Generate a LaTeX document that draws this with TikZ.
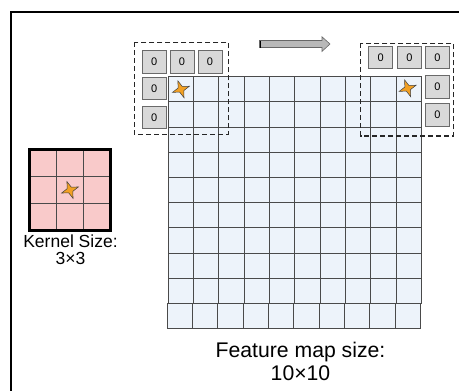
\documentclass[tikz,border=0pt]{standalone}
\usepackage{fontspec}
\setmainfont{Liberation Sans}
\usetikzlibrary{shapes.geometric}
\definecolor{mapfill}{HTML}{EDF3FA}
\definecolor{mapline}{HTML}{4A4A4A}
\definecolor{kernfill}{HTML}{F9CACA}
\definecolor{padfill}{HTML}{D9D9D9}
\definecolor{padline}{HTML}{6A6A6A}
\definecolor{starfill}{HTML}{F2A023}
\tikzset{
  mapcell/.style={draw=mapline, fill=mapfill, line width=1pt, minimum width=25.3pt, minimum height=25.2pt, inner sep=0pt, outer sep=0pt},
  kerncell/.style={draw=mapline, fill=kernfill, line width=1pt, minimum size=27pt, inner sep=0pt, outer sep=0pt},
  padcell/.style={draw=padline, fill=padfill, line width=0.8pt, minimum width=24pt, minimum height=22.5pt, inner sep=0pt, font=\fontsize{11}{12}\selectfont},
  anchorstar/.style={star, star points=4, star point ratio=2.9, fill=starfill, draw=black!75, line width=0.5pt, minimum size=18pt, inner sep=0pt, rotate=20},
  padbox/.style={draw=black!85, dashed, dash pattern=on 5pt off 3pt, line width=1.1pt},
  caption/.style={align=center, inner sep=0pt}
}
\begin{document}
\begin{tikzpicture}[x=1pt, y=-1pt]
\useasboundingbox (0,0) rectangle (459,391);
\fill[white] (0,0) rectangle (459,391);

% outer frame (continues past the page on the right and bottom)
\draw[line width=2.6pt] (11,395) -- (11,12) -- (465,12);

% feature map 10x10 (last row sits slightly to the left)
\foreach \r in {0,...,9}{
  \foreach \c in {0,...,9}{
    \pgfmathsetmacro{\dx}{\r==9 ? -1 : 0}
    \node[mapcell] (m-\r-\c) at ({168.3+25.3*\c+12.65+\dx},{76.7+25.2*\r+12.6}) {};
  }
}

% kernel 3x3
\foreach \r in {0,1,2}{
  \foreach \c in {0,1,2}{
    \node[kerncell] (k-\r-\c) at ({29.5+27*\c+13.5},{149.5+27*\r+13.5}) {};
  }
}
\draw[line width=2.2pt] (k-0-0.north west) rectangle (k-2-2.south east);
\node[anchorstar] (kstar) at (k-1-1) {};

% padding zeros, left position
\node[padcell] (pl1) at (154.2,61.7) {0};
\node[padcell] (pl2) at (182.0,61.7) {0};
\node[padcell] (pl3) at (209.9,61.7) {0};
\node[padcell] (pl4) at (154.2,88.6) {0};
\node[padcell] (pl5) at (154.2,117.5) {0};
\draw[padbox] (134.3,42.3) rectangle (228.3,134.3);
\node[anchorstar] (sl) at (m-0-0) {};

% padding zeros, right position
\node[padcell] (pr1) at (380.8,57.5) {0};
\node[padcell] (pr2) at (409.5,57.5) {0};
\node[padcell] (pr3) at (437.5,57.5) {0};
\node[padcell] (pr4) at (437.5,87.0) {0};
\node[padcell] (pr5) at (437.5,114.7) {0};
\draw[padbox] (360.7,43.3) rectangle (453.3,136);
\node[anchorstar] (sr) at ([xshift=-1pt,yshift=1pt]m-0-9) {};

% sliding direction arrow
\draw[draw=black!60, fill=black!28, line width=0.6pt]
  (259.5,40.5) -- (322,40.5) -- (322,36.8) -- (330,44) -- (322,51.4) -- (322,47.5) -- (259.5,47.5) -- cycle;
\draw[line width=1.6pt] (260.3,40.5) -- (260.3,47.5);

% captions
\node[caption, font=\fontsize{17.5}{17.5}\selectfont] (kcap) at (70.5,249.5) {Kernel Size:\\3×3};
\node[caption, font=\fontsize{21.2}{23}\selectfont] (fcap) at (300.5,361) {Feature map size:\\10×10};
\end{tikzpicture}
\end{document}
